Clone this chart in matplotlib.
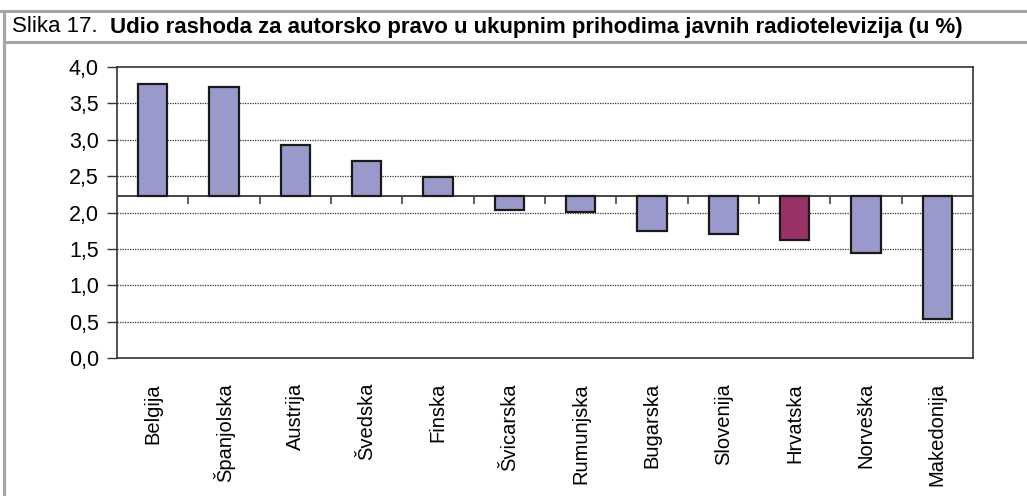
import numpy as np
import matplotlib.pyplot as plt
from matplotlib.lines import Line2D

plt.rcParams['font.family'] = ['Liberation Sans', 'DejaVu Sans']

countries = ['Belgija', 'Španjolska', 'Austrija', 'Švedska', 'Finska', 'Švicarska',
             'Rumunjska', 'Bugarska', 'Slovenija', 'Hrvatska', 'Norveška', 'Makedonija']
values = [3.77, 3.73, 2.93, 2.71, 2.49, 2.04, 2.01, 1.74, 1.70, 1.62, 1.44, 0.53]
base = 2.22
yticks = [0.0, 0.5, 1.0, 1.5, 2.0, 2.5, 3.0, 3.5, 4.0]
ytick_labels = ['0,0', '0,5', '1,0', '1,5', '2,0', '2,5', '3,0', '3,5', '4,0']

blue = '#9999cc'
red = '#993366'
colors = [red if c == 'Hrvatska' else blue for c in countries]

fig = plt.figure(figsize=(10.27, 4.96), dpi=100)
ax = fig.add_axes([117/1027, 1 - 358/496, (973-117)/1027, (358-67)/496])

x = np.arange(len(countries))
ax.bar(x, np.array(values) - base, bottom=base, width=0.41, color=colors,
       edgecolor='#1a1a1a', linewidth=1.6, zorder=3)

ax.set_xlim(-0.5, len(countries) - 0.5)
ax.set_ylim(0, 4)
ax.set_yticks(yticks)
ax.set_yticklabels(ytick_labels, fontsize=15.5)
ax.tick_params(axis='y', direction='out', length=7, width=1, pad=6, color='#333333')
ax.set_xticks(x)
ax.set_xticklabels(countries, rotation=90, fontsize=14.5, va='top')
ax.tick_params(axis='x', length=0, pad=18)

for y in yticks[1:-1]:
    ax.axhline(y, color='#333333', linestyle=(0, (1, 1)), linewidth=0.9, zorder=1)

# baseline axis with tick marks between categories
ax.axhline(base, color='#444444', linewidth=1.4, zorder=2)
ax.vlines(x[:-1] + 0.5, base - 0.1, base, color='#444444', linewidth=1.2, zorder=2)

for s in ax.spines.values():
    s.set_color('#333333')
    s.set_linewidth(1.2)

# frame and title band
gray = '#a6a6a6'
fig.add_artist(Line2D([0, 1], [1 - 10.5/496, 1 - 10.5/496], color=gray, linewidth=2.2))
fig.add_artist(Line2D([0.004, 1], [1 - 42/496, 1 - 42/496], color=gray, linewidth=2.2))
fig.add_artist(Line2D([4/1027, 4/1027], [0, 1 - 10.5/496], color=gray, linewidth=2.2))

t1 = fig.text(12/1027, 1 - 27/496, 'Slika 17.', fontsize=16, va='center', ha='left')
fig.canvas.draw()
bb = t1.get_window_extent()
fig.text((bb.x1 + 12)/1027, 1 - 27/496,
         'Udio rashoda za autorsko pravo u ukupnim prihodima javnih radiotelevizija (u %)',
         fontsize=16, fontweight='bold', va='center', ha='left')

fig.savefig('out.png', dpi=100)
